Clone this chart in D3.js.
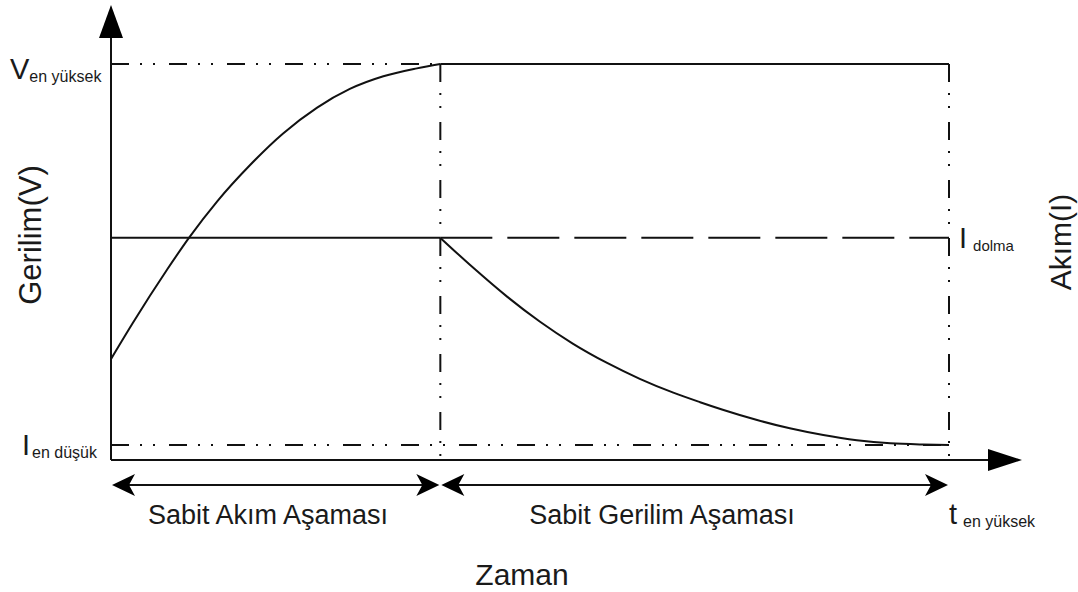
<!DOCTYPE html>
<html>
<head>
<meta charset="utf-8">
<script src="https://cdn.jsdelivr.net/npm/d3@7"></script>
<style>
  html, body { margin: 0; padding: 0; background: #fff; }
  svg text { font-family: "Liberation Sans", Arial, sans-serif; fill: #1a1a1a; }
</style>
</head>
<body>
<div id="chart"></div>
<script>
// zaman (0..100) ve seviye (0..100) birimleri
const tCV = 39.3;      // sabit akım -> sabit gerilim geçişi
const tEnd = 100;      // t en yüksek
const vMax = 100;      // V en yüksek
const iDolma = 56.1;   // I dolma
const iMin = 3.8;      // I en düşük

// gerilim eğrisi (sabit akım aşaması)
const voltT = [0, 2.6, 6.7, 9.3, 12.7, 16.6, 20.5, 24.6, 28.5, 32.5, 36.5, 39.3];
const voltV = [25.5, 34.6, 48.1, 56.1, 65.4, 74.5, 82.4, 89.0, 93.7, 96.9, 98.9, 100];

// akım eğrisi (sabit gerilim aşaması)
const currT = [39.3, 43.2, 47.3, 51.2, 55.1, 59.2, 63.1, 67.1, 70.3, 73.0, 77.1, 81.0, 85.0, 89.0, 93.0, 96.9, 100];
const currI = [56.1, 48.6, 41.2, 34.9, 29.4, 24.5, 20.5, 17.0, 14.6, 12.7, 10.1, 8.0, 6.3, 5.0, 4.2, 3.9, 3.8];

const stageLabels = ["Sabit Akım Aşaması", "Sabit Gerilim Aşaması"];
const stageLabelX = [268, 662];

const W = 1078, H = 592;
const svg = d3.select("#chart").append("svg").attr("width", W).attr("height", H);

const x = d3.scaleLinear().domain([0, tEnd]).range([111, 949]);
const y = d3.scaleLinear().domain([0, vMax]).range([460, 64]);

const dashDot = "18,11,2,11,2,14";
const ink = "#111";

function hline(yv, t0, t1, dash) {
  svg.append("line")
    .attr("x1", x(t0)).attr("x2", x(t1))
    .attr("y1", y(yv)).attr("y2", y(yv))
    .attr("stroke", ink).attr("stroke-width", 2)
    .attr("stroke-dasharray", dash || null);
}
function vline(tv, y0, y1, dash) {
  svg.append("line")
    .attr("x1", x(tv)).attr("x2", x(tv))
    .attr("y1", y(y1)).attr("y2", y(y0))
    .attr("stroke", ink).attr("stroke-width", 2)
    .attr("stroke-dasharray", dash || null);
}

// kılavuz çizgileri
hline(vMax, 0, tCV, dashDot);
hline(iMin, 0, tEnd, dashDot);
vline(tCV, 0, vMax, dashDot);
vline(tEnd, 0, vMax, dashDot);
hline(vMax, tCV, tEnd);            // sabit gerilim
hline(iDolma, 0, tCV);             // sabit akım
hline(iDolma, tCV, tEnd, "52,15"); // akım seviyesi (kesikli)

// eğriler
const line = d3.line().x(d => x(d[0])).y(d => y(d[1])).curve(d3.curveMonotoneX);
svg.append("path")
  .attr("d", line(voltT.map((t, i) => [t, voltV[i]])))
  .attr("fill", "none").attr("stroke", ink).attr("stroke-width", 2);
svg.append("path")
  .attr("d", line(currT.map((t, i) => [t, currI[i]])))
  .attr("fill", "none").attr("stroke", ink).attr("stroke-width", 2);

// eksenler
const x0 = x(0), yBase = y(0);
svg.append("line").attr("x1", x0).attr("x2", x0).attr("y1", yBase).attr("y2", 30)
  .attr("stroke", ink).attr("stroke-width", 2);
svg.append("path").attr("d", `M${x0},5 L${x0 - 12},38 L${x0 + 12},38 Z`).attr("fill", "#000");
svg.append("line").attr("x1", x0).attr("x2", 995).attr("y1", yBase).attr("y2", yBase)
  .attr("stroke", ink).attr("stroke-width", 2);
svg.append("path").attr("d", `M1022,${yBase} L988,${yBase - 11} L988,${yBase + 11} Z`).attr("fill", "#000");

// aşama okları
const arrowY = 485;
function headPath(tipX, dir) {
  // dir = +1 sağa, -1 sola
  const b = tipX - dir * 23, n = tipX - dir * 17;
  return `M${tipX},${arrowY} L${b},${arrowY - 11} L${n},${arrowY} L${b},${arrowY + 11} Z`;
}
[[0, tCV], [tCV, tEnd]].forEach(([a, b], i) => {
  svg.append("line").attr("x1", x(a) + 10).attr("x2", x(b) - 10)
    .attr("y1", arrowY).attr("y2", arrowY).attr("stroke", ink).attr("stroke-width", 2);
  svg.append("path").attr("d", headPath(x(a) + 1, -1)).attr("fill", "#000");
  svg.append("path").attr("d", headPath(x(b) - 1, 1)).attr("fill", "#000");
  svg.append("text")
    .attr("x", stageLabelX[i]).attr("y", 524)
    .attr("text-anchor", "middle").style("font-size", "27px")
    .text(stageLabels[i]);
});

// eksen başlıkları
svg.append("text").attr("x", 522).attr("y", 585).attr("text-anchor", "middle")
  .style("font-size", "30px").text("Zaman");
svg.append("text").attr("transform", "translate(41,235) rotate(-90)").attr("text-anchor", "middle")
  .style("font-size", "31px").text("Gerilim(V)");
svg.append("text").attr("transform", "translate(1071,242) rotate(-90)").attr("text-anchor", "middle")
  .style("font-size", "30px").text("Akım(I)");

// seviye etiketleri
function subLabel(px, py, main, sub, mainSize, subSize, gap) {
  const t = svg.append("text").attr("x", px).attr("y", py);
  t.append("tspan").style("font-size", mainSize + "px").text(main);
  t.append("tspan").attr("dx", gap).attr("dy", 3).style("font-size", subSize + "px").text(sub);
}
subLabel(10, 79, "V", "en yüksek", 29, 16, 0);
subLabel(22, 455, "I", "en düşük", 29, 16, 2);
subLabel(959, 248, "I", "dolma", 29, 15, 6);
subLabel(949, 524, "t", "en yüksek", 29, 16, 6);
</script>
</body>
</html>
